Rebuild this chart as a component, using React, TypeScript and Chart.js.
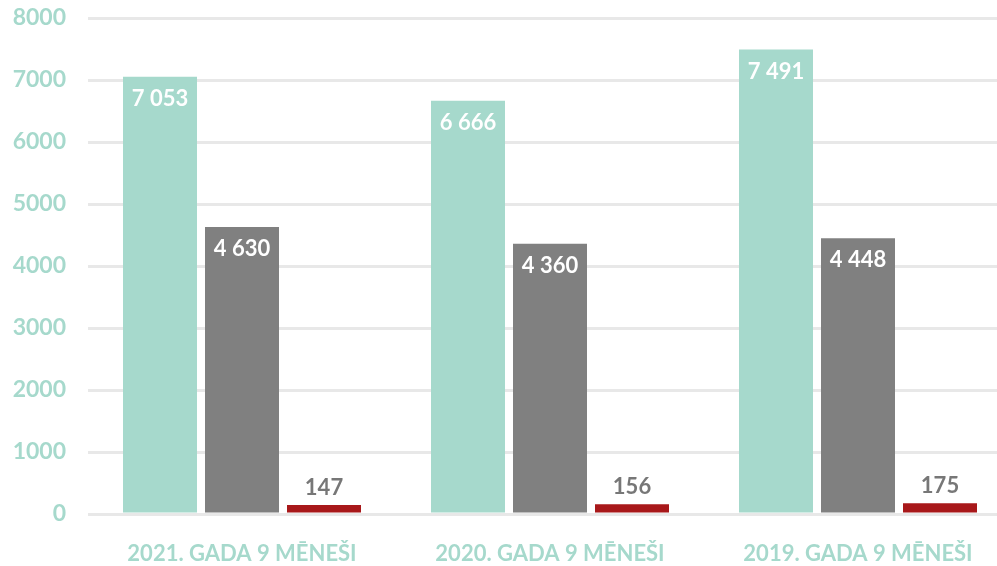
import React, { useEffect, useRef } from "react";
import { Chart, registerables } from "chart.js";

Chart.register(...registerables);

const categories = ["2021. GADA 9 MĒNEŠI", "2020. GADA 9 MĒNEŠI", "2019. GADA 9 MĒNEŠI"];
const seriesA = [7053, 6666, 7491];
const seriesB = [4630, 4360, 4448];
const seriesC = [147, 156, 175];
const yTicks = [0, 1000, 2000, 3000, 4000, 5000, 6000, 7000, 8000];

const TEAL = "#A6D9CC";
const GRAY = "#808080";
const RED = "#A8181A";
const FONT = "Lato, 'Open Sans', sans-serif";

function fmt(v: number) {
  return String(v).replace(/\B(?=(\d{3})+(?!\d))/g, " ");
}

const labelPlugin = {
  id: "barLabels",
  afterDatasetsDraw(chart: any) {
    const ctx = chart.ctx;
    ctx.save();
    ctx.font = `bold 22px ${FONT}`;
    ctx.textAlign = "center";
    chart.data.datasets.forEach((ds: any, di: number) => {
      const meta = chart.getDatasetMeta(di);
      meta.data.forEach((bar: any, i: number) => {
        const v = ds.data[i] as number;
        const txt = fmt(v);
        if (di < 2) {
          ctx.fillStyle = "#FFFFFF";
          ctx.textBaseline = "top";
          ctx.fillText(txt, bar.x, bar.y + 11);
        } else {
          ctx.fillStyle = "#777777";
          ctx.textBaseline = "bottom";
          ctx.fillText(txt, bar.x, bar.y - 6);
        }
      });
    });
    ctx.restore();
  },
};

export default function App() {
  const ref = useRef<HTMLCanvasElement | null>(null);
  useEffect(() => {
    if (!ref.current) return;
    const common = { categoryPercentage: 0.7987, barPercentage: 0.9024 };
    const chart = new Chart(ref.current, {
      type: "bar",
      data: {
        labels: categories,
        datasets: [
          { label: "A", data: seriesA, backgroundColor: TEAL, ...common },
          { label: "B", data: seriesB, backgroundColor: GRAY, ...common },
          { label: "C", data: seriesC, backgroundColor: RED, ...common },
        ],
      },
      options: {
        animation: false,
        responsive: false,
        maintainAspectRatio: false,
        layout: { padding: { top: 18, right: 18, left: 0, bottom: 0 } },
        plugins: { legend: { display: false }, tooltip: { enabled: false } },
        scales: {
          x: {
            grid: { display: false, drawTicks: false },
            border: { display: false },
            ticks: {
              color: TEAL,
              font: { family: FONT, size: 22, weight: "bold" },
              padding: 27,
              maxRotation: 0,
              autoSkip: false,
            },
            afterFit(scale: any) {
              scale.height = 52;
              scale.paddingLeft = 0;
              scale.paddingRight = 0;
            },
          },
          y: {
            min: 0,
            max: 8000,
            afterBuildTicks(scale: any) {
              scale.ticks = yTicks.map((v) => ({ value: v }));
            },
            grid: { color: "#E8E8E8", lineWidth: 3, drawTicks: false },
            border: { display: false },
            ticks: {
              color: TEAL,
              font: { family: FONT, size: 23, weight: "bold" },
              padding: 22,
              callback: (v: any) => String(v),
            },
            afterFit(scale: any) {
              scale.width = 88;
              scale.paddingTop = 0;
              scale.paddingBottom = 0;
            },
          },
        },
      },
      plugins: [labelPlugin],
    });
    return () => chart.destroy();
  }, []);
  return (
    <div style={{ position: "fixed", left: 0, top: 0, width: 1030, height: 566, background: "#fff" }}>
      <canvas ref={ref} width={1030} height={566} style={{ width: 1030, height: 566 }} />
    </div>
  );
}
